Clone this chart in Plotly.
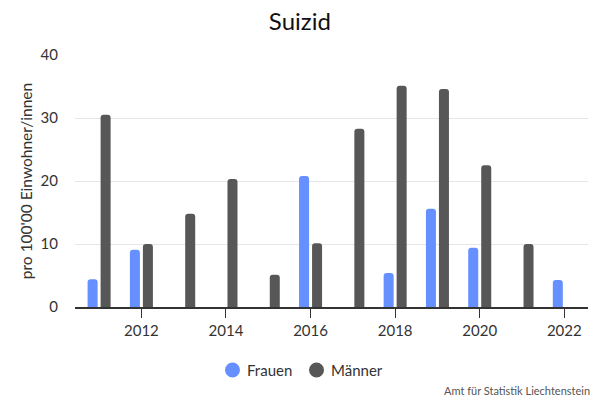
import plotly.graph_objects as go

years = [2011, 2012, 2013, 2014, 2015, 2016, 2017, 2018, 2019, 2020, 2021, 2022]
frauen = [4.4, 9.1, None, None, None, 20.8, None, 5.4, 15.6, 9.4, None, 4.3]
maenner = [30.5, 10.0, 14.8, 20.3, 5.1, 10.1, 28.3, 35.1, 34.6, 22.5, 10.0, None]
series_names = ["Frauen", "Männer"]
colors = ["#6690ff", "#575757"]
title_text = "Suizid"
y_title = "pro 100'00 Einwohner/innen"
source_text = "Amt für Statistik Liechtenstein"

FONT = "Lato, Nunito, 'Open Sans', sans-serif"

fig = go.Figure()
for name, vals, col in zip(series_names, [frauen, maenner], colors):
    fig.add_trace(go.Bar(x=years, y=vals, name=name, marker=dict(color=col, line=dict(width=0)),
                         showlegend=False))

# manual legend (circle + text), positioned in paper coordinates
legend_circle_x = [0.307, 0.4708]
legend_text_x = [0.3314, 0.4951]
legend_y = -0.25
shapes = []
annotations = []
for name, col, cx, tx in zip(series_names, colors, legend_circle_x, legend_text_x):
    shapes.append(dict(type="circle", xref="paper", yref="paper", xsizemode="pixel", ysizemode="pixel",
                       xanchor=cx, yanchor=legend_y, x0=-7.5, x1=7.5, y0=-7.5, y1=7.5,
                       fillcolor=col, line=dict(width=0)))
    annotations.append(dict(text=name, xref="paper", yref="paper", x=tx, y=legend_y,
                            xanchor="left", yanchor="middle", showarrow=False,
                            font=dict(size=15, color="#333333")))
annotations.append(dict(text=source_text, xref="paper", yref="paper", x=1.007, y=-0.333,
                        xanchor="right", yanchor="middle", showarrow=False,
                        font=dict(size=11, color="#555555")))

fig.update_layout(
    width=592, height=392,
    margin=dict(l=67, r=12, t=47, b=93, autoexpand=False),
    paper_bgcolor="white", plot_bgcolor="white",
    font=dict(family=FONT, color="#333333"),
    showlegend=False,
    title=dict(text=title_text, x=0.493, xanchor="center", y=0.966, yanchor="middle",
               font=dict(size=24, color="#111111", family=FONT)),
    barmode="group", bargap=0.385, bargroupgap=0.23, barcornerradius=3,
    xaxis=dict(range=[2010.43, 2022.56], tickmode="array", tickvals=[2012, 2014, 2016, 2018, 2020, 2022],
               ticks="outside", ticklen=9, tickcolor="#333333", showline=True, linecolor="#333333",
               linewidth=1.5, showgrid=False, zeroline=False, tickfont=dict(size=15, color="#333333")),
    yaxis=dict(range=[0, 40], tickvals=[0, 10, 20, 30, 40], showgrid=True, gridcolor="#e6e6e6",
               zeroline=False, showline=False, tickfont=dict(size=15, color="#333333"), ticklabelstandoff=16,
               title=dict(text=y_title, font=dict(size=15.5, color="#333333"), standoff=4)),
    shapes=shapes,
    annotations=annotations,
)

fig.write_html("out.html")
